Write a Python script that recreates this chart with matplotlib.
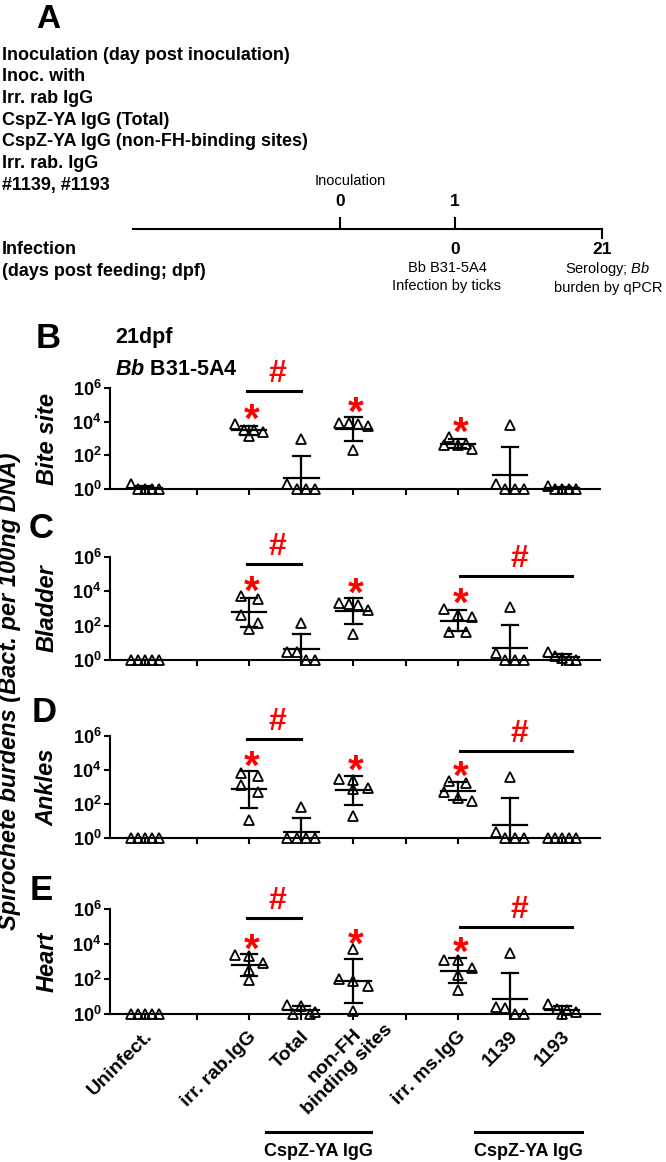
import numpy as np
import matplotlib
matplotlib.use('Agg')
import matplotlib.pyplot as plt
from matplotlib import transforms
from matplotlib.lines import Line2D
from matplotlib.ticker import NullLocator

plt.rcParams['font.family'] = ['Liberation Sans', 'DejaVu Sans']
plt.rcParams['mathtext.fontset'] = 'custom'
plt.rcParams['mathtext.rm'] = 'Liberation Sans'
plt.rcParams['mathtext.it'] = 'Liberation Sans:italic'
plt.rcParams['mathtext.bf'] = 'Liberation Sans:bold'
plt.rcParams['mathtext.bfit'] = 'Liberation Sans:italic:bold'

# groups on the x axis (empty slots at 1 and 5)
groups = ['Uninfect.', 'irr. rab.IgG', 'Total', 'non-FH\nbinding sites',
          'irr. ms.IgG', '1139', '1193']
group_pos = [0, 2, 3, 4, 6, 7, 8]
star_groups = [1, 3, 4]  # irr. rab, non-FH, irr. ms

tissues = ['Bite site', 'Bladder', 'Ankles', 'Heart']
letters = ['B', 'C', 'D', 'E']

# Bact. per 100ng DNA, 5 mice per group
bite_site = [
    [1, 2, 1, 1, 1],
    [7600, 1400, 3200, 2500, 3200],
    [1, 2, 900, 1, 1],
    [8900, 7900, 7100, 5600, 200],
    [1300, 250, 500, 400, 400],
    [6000, 2, 1, 1, 1],
    [1.5, 1, 1, 1, 1],
]
bladder = [
    [1, 1, 1, 1, 1],
    [5400, 3500, 400, 63, 150],
    [150, 3, 3, 1, 1],
    [1950, 1550, 2150, 870, 31],
    [1000, 400, 320, 45, 45],
    [1250, 2.5, 1, 1, 1],
    [3, 1.6, 1.25, 1, 1],
]
ankles = [
    [1, 1, 1, 1, 1],
    [6300, 4400, 1300, 520, 12],
    [68, 1, 1, 1, 1],
    [2500, 2800, 900, 800, 20],
    [2200, 1800, 500, 220, 160],
    [4000, 2.2, 1, 1, 1],
    [1, 1, 1, 1, 1],
]
heart = [
    [1, 1, 1, 1, 1],
    [2500, 2000, 810, 320, 83],
    [3.2, 2.8, 1.25, 1, 1],
    [5100, 100, 80, 38, 1.5],
    [1230, 1230, 430, 170, 23],
    [3000, 2.6, 2.1, 1, 1],
    [3.5, 2, 1.6, 1.25, 1],
]
panels = [bite_site, bladder, ankles, heart]

W, H = 666, 1162
fig = plt.figure(figsize=(W / 100, H / 100), dpi=100)


def fx(px):
    return px / W


def fy(py):
    return 1 - py / H


def swarm(logs, h=0.5, dmax=0.33, width=0.54):
    # group points into rows of similar height (top down), then center every row
    order = np.argsort(-logs, kind='stable')
    off = np.zeros(len(logs))
    rows = []
    for i in order:
        if rows and logs[rows[-1][0]] - logs[i] < h:
            rows[-1].append(i)
        else:
            rows.append([i])
    for r in rows:
        n = len(r)
        if n > 1:
            d = min(dmax, width / (n - 1))
            for j, i in enumerate(r):
                off[i] = (j - (n - 1) / 2) * d
    return off


# ---------- panel A ----------
fig.text(fx(48), fy(19), 'A', fontsize=24, fontweight='bold', ha='center', va='center')
left_lines = ['Inoculation (day post inoculation)', 'Inoc. with', 'Irr. rab IgG',
              'CspZ-YA IgG (Total)', 'CspZ-YA IgG (non-FH-binding sites)',
              'Irr. rab. IgG', '#1139, #1193']
for i, s in enumerate(left_lines):
    fig.text(fx(2), fy(55 + i * 21.7), s, fontsize=13, fontweight='bold', va='center')
fig.text(fx(2), fy(250), 'Infection', fontsize=13, fontweight='bold', va='center')
fig.text(fx(2), fy(272), '(days post feeding; dpf)', fontsize=13, fontweight='bold', va='center')

lw = 1.5
fig.add_artist(Line2D([fx(133), fx(602)], [fy(229), fy(229)], color='black', lw=lw))
for xt in [340, 455]:
    fig.add_artist(Line2D([fx(xt), fx(xt)], [fy(218), fy(229)], color='black', lw=lw))
fig.add_artist(Line2D([fx(602), fx(602)], [fy(229), fy(238)], color='black', lw=lw))
fig.text(fx(350), fy(181), 'Inoculation', fontsize=10.5, ha='center', va='center')
fig.text(fx(340), fy(202), '0', fontsize=12.5, fontweight='bold', ha='center', va='center')
fig.text(fx(455), fy(202), '1', fontsize=12.5, fontweight='bold', ha='center', va='center')
fig.text(fx(455), fy(250), '0', fontsize=12.5, fontweight='bold', ha='center', va='center')
fig.text(fx(602), fy(250), '21', fontsize=12.5, fontweight='bold', ha='center', va='center')
fig.text(fx(447), fy(268), 'Bb B31-5A4', fontsize=10.5, ha='center', va='center')
fig.text(fx(447), fy(286), 'Infection by ticks', fontsize=10.5, ha='center', va='center')
fig.text(fx(608), fy(269), r'Serology; $\mathit{Bb}$', fontsize=10.5, ha='center', va='center')
fig.text(fx(608), fy(288), 'burden by qPCR', fontsize=10.5, ha='center', va='center')

# ---------- panels B-E ----------
axes_px = [(388, 489), (557, 660), (736, 838), (909, 1014)]
letter_px = [(48, 339), (41, 528), (44, 712), (41, 890)]
# significance bars (x0, x1, log10 height)
sig_bars = [
    [(1.95, 3.0, 5.82)],
    [(1.95, 3.0, 5.58), (6.05, 8.18, 4.88)],
    [(1.95, 3.0, 5.82), (6.05, 8.18, 5.12)],
    [(1.95, 3.0, 5.49), (6.05, 8.18, 4.97)],
]

x0px, x1px = 110, 600
p0, step = 144.8, 52.17
xlim = ((x0px - p0) / step, (x1px - p0) / step)

for k, data in enumerate(panels):
    top, bot = axes_px[k]
    ax = fig.add_axes([fx(x0px), fy(bot), (x1px - x0px) / W, (bot - top) / H])
    ax.set_yscale('log')
    ax.set_ylim(1, 1e6)
    ax.set_xlim(*xlim)
    for side in ['top', 'right']:
        ax.spines[side].set_visible(False)
    for side in ['left', 'bottom']:
        ax.spines[side].set_linewidth(1.5)
    ax.set_yticks([1, 1e2, 1e4, 1e6])
    ax.set_yticklabels([r'$\mathbf{10^{%d}}$' % e for e in [0, 2, 4, 6]], fontsize=13)
    ax.yaxis.set_minor_locator(NullLocator())
    ax.set_xticks(range(9))
    ax.set_xticklabels([])
    ax.tick_params(width=1.5, length=4, pad=2)
    ax.patch.set_alpha(0)

    for g, vals in enumerate(data):
        pos = group_pos[g]
        logs = np.log10(np.array(vals, dtype=float))
        off = swarm(logs)
        ax.plot(pos + off, vals, linestyle='none', marker='^', ms=7.5, mfc='none',
                mec='black', mew=1.3, clip_on=False, zorder=2)
        m = logs.mean()
        s = logs.std(ddof=1)
        ax.plot([pos - 0.33, pos + 0.33], [10 ** m, 10 ** m], color='black', lw=1.6, zorder=3)
        if s > 0.02:
            ax.plot([pos, pos], [10 ** (m - s), 10 ** (m + s)], color='black', lw=1.6, zorder=3)
            for yv in [10 ** (m - s), 10 ** (m + s)]:
                ax.plot([pos - 0.16, pos + 0.16], [yv, yv], color='black', lw=1.6, zorder=3)
        if g in star_groups:
            ys = max(m + s, logs.max()) + 0.85
            ax.annotate('*', (pos + 0.05, 10 ** ys), xytext=(0, -8), textcoords='offset points',
                        ha='center', va='center', color='red', fontsize=29,
                        fontweight='bold', annotation_clip=False)

    for (a, b, yl) in sig_bars[k]:
        ax.plot([a, b], [10 ** yl, 10 ** yl], color='black', lw=2.2, clip_on=False)
        ax.annotate('#', ((a + b) / 2 + 0.06, 10 ** yl), xytext=(0, 12.5), textcoords='offset points',
                    ha='center', va='center', color='red', fontsize=23,
                    fontweight='bold', annotation_clip=False)

    fig.text(fx(47), fy((top + bot) / 2), tissues[k], rotation=90, fontsize=17,
             fontweight='bold', fontstyle='italic', ha='center', va='center')
    lx, ly = letter_px[k]
    fig.text(fx(lx), fy(ly), letters[k], fontsize=25, fontweight='bold', ha='center', va='center')

    if k == 3:
        axE = ax

fig.text(fx(115), fy(338), '21dpf', fontsize=15.5, fontweight='bold', va='center')
fig.text(fx(115), fy(370), r'$\mathbfit{Bb}$ B31-5A4', fontsize=15.5, fontweight='bold', va='center')

fig.text(fx(10), fy(691), 'Spirochete burdens (Bact. per 100ng DNA)', rotation=90,
         fontsize=17, fontweight='bold', fontstyle='italic', ha='center', va='center')

# bottom category labels
for g, name in enumerate(groups):
    pos = group_pos[g]
    dx = 30 if '\n' in name else 5
    dy = 6 if '\n' in name else 20
    axE.annotate(name, (pos, 1), xytext=(dx * 0.72, -dy * 0.72), textcoords='offset points',
                 rotation=45, rotation_mode='anchor', ha='right', va='center',
                 multialignment='center', fontsize=14, fontweight='bold',
                 annotation_clip=False)

tr = transforms.blended_transform_factory(axE.transData, fig.transFigure)
for a, b in [(2.33, 4.33), (6.33, 8.38)]:
    fig.add_artist(Line2D([a, b], [fy(1132), fy(1132)], color='black', lw=2.2, transform=tr))
    fig.text((a + b) / 2, fy(1152), 'CspZ-YA IgG', transform=tr, fontsize=13,
             fontweight='bold', ha='center', va='center')

fig.savefig('out.png', dpi=100)
